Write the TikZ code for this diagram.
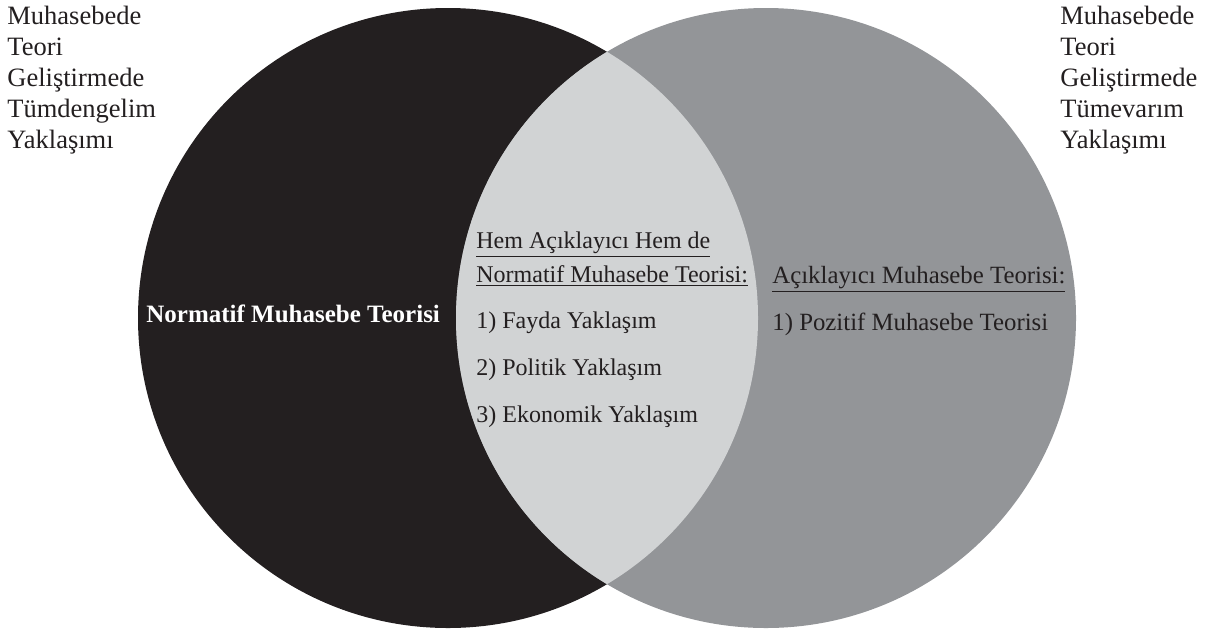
\documentclass[tikz,border=0pt]{standalone}
\usepackage{fontspec}
\setmainfont{Liberation Serif}
\usetikzlibrary{calc}
\usetikzlibrary{positioning}

\definecolor{leftblack}{HTML}{231F20}
\definecolor{rightgray}{HTML}{939598}
\definecolor{lensgray}{HTML}{D1D3D4}

\tikzset{
  sidetext/.style={align=left, anchor=north west, inner sep=0, text=leftblack,
    font=\fontsize{13.25}{15.5}\selectfont},
  listtext/.style={anchor=base west, inner sep=0, text=leftblack,
    font=\fontsize{12}{14}\selectfont},
}

\begin{document}
\begin{tikzpicture}[x=0.5pt, y=-0.5pt]

        \useasboundingbox (0,0) rectangle (1208,633);

        % Define center points
        \coordinate (left_orig) at (448,318);
        \coordinate (right_orig) at (766,318);
        \coordinate (mid_orig) at (476,248);

        % draw the two circles
        \fill[leftblack] (left_orig) circle (310);
        \fill[rightgray] (right_orig) circle (310);

        % draw the overlap
        \begin{scope}
          \clip (left_orig) circle (310);
          \fill[lensgray] (right_orig) circle (310);
        \end{scope}

        % corner texts
        \node[sidetext] (tumden) at (7,6) {Muhasebede\\Teori\\Geliştirmede\\Tümdengelim\\Yaklaşımı};
        \node[sidetext] (tumevar) at (1060,6) {Muhasebede\\Teori\\Geliştirmede\\Tümevarım\\Yaklaşımı};

        % left circle title
        \node[listtext, text=white, font=\fontsize{12.5}{14}\selectfont\bfseries] (normatif) at (146,322) {Normatif Muhasebe Teorisi};

        % the overlap list
        \node[listtext] (hem_a) at (mid_orig) {\underline{Hem Açıklayıcı Hem de}};
        \node[listtext] (hem_b) at ($(mid_orig) + (0,34)$) {\underline{Normatif Muhasebe Teorisi:}};
        \node[listtext] (fayda) at ($(mid_orig) + (0,80)$) {1) Fayda Yaklaşım};
        \node[listtext] (politik) at ($(mid_orig) + (0,127)$) {2) Politik Yaklaşım};
        \node[listtext] (ekonomik) at ($(mid_orig) + (0,174)$) {3) Ekonomik Yaklaşım};

        % the right circle list
        \node[listtext, font=\fontsize{12.4}{14}\selectfont] (aciklayici) at ($(mid_orig) + (296,35)$) {\underline{Açıklayıcı Muhasebe Teorisi:}};
        \node[listtext, font=\fontsize{12.4}{14}\selectfont] (pozitif) at ($(mid_orig) + (296,82)$) {1) Pozitif Muhasebe Teorisi};

\end{tikzpicture}
\end{document}
